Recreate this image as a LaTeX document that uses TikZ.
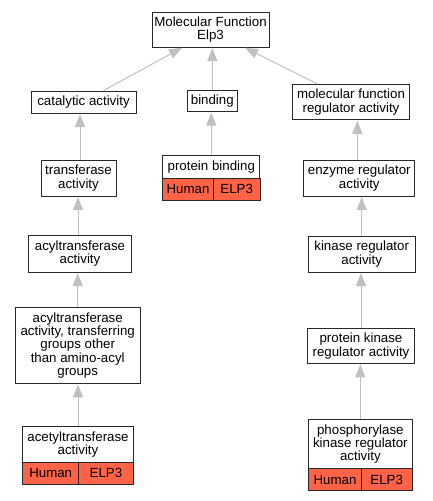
\documentclass[tikz,border=0pt]{standalone}
\usepackage{fontspec}
\setmainfont{Liberation Sans}
\usetikzlibrary{arrows.meta}
\definecolor{edgegray}{RGB}{192,192,192}
\definecolor{boxline}{RGB}{40,40,40}
\definecolor{hitred}{RGB}{255,99,71}
\begin{document}
\begin{tikzpicture}[x=1pt,y=-1pt,
  every node/.style={font=\fontsize{13.3}{13.3}\selectfont},
  box/.style={draw=boxline, line width=1pt, fill=white, rectangle, inner sep=0pt, align=center},
  cell/.style={box, fill=hitred},
  edge/.style={draw=edgegray, line width=1pt, -{Triangle[length=13pt,width=10pt]}, shorten >=0.6pt}
]
\useasboundingbox (0,0) rectangle (432,501);
% nodes
\node[box, minimum width=117pt, minimum height=35pt] (root) at (210.5,29.5) {Molecular Function\\Elp3};
\node[box, minimum width=105pt, minimum height=22pt] (cat) at (83.5,102) {catalytic activity};
\node[box, minimum width=50pt, minimum height=21pt] (bind) at (212.3,101) {binding};
\node[box, minimum width=116.6pt, minimum height=35.4pt] (mfra) at (351,102) {molecular function\\regulator activity};
\node[box, minimum width=75pt, minimum height=36pt] (tr) at (78.5,178) {transferase\\activity};
\node[box, minimum width=97.3pt, minimum height=23pt] (pb) at (211.3,166.8) {protein binding};
\node[cell, minimum width=50.6pt, minimum height=21.7pt] (pbH) at (188,189.2) {Human};
\node[cell, minimum width=46.7pt, minimum height=21.7pt] (pbE) at (236.65,189.2) {ELP3};
\node[box, minimum width=110.7pt, minimum height=36pt] (enz) at (359.3,178) {enzyme regulator\\activity};
\node[box, minimum width=102.7pt, minimum height=36.7pt] (acyl) at (80,253.7) {acyltransferase\\activity};
\node[box, minimum width=106.7pt, minimum height=36pt] (kin) at (361.7,254) {kinase regulator\\activity};
\node[box, minimum width=124.7pt, minimum height=76pt] (acyl2) at (77.7,345.3) {acyltransferase\\activity, transferring\\groups other\\than amino-acyl\\groups};
\node[box, minimum width=107.4pt, minimum height=34.6pt] (pk) at (361,346) {protein kinase\\regulator activity};
\node[box, minimum width=110.6pt, minimum height=36pt] (acet) at (78,444.7) {acetyltransferase\\activity};
\node[cell, minimum width=56pt, minimum height=21.3pt] (acetH) at (50.7,473.35) {Human};
\node[cell, minimum width=54.6pt, minimum height=21.3pt] (acetE) at (106,473.35) {ELP3};
\node[box, minimum width=103.3pt, minimum height=49.4pt] (phos) at (360.35,444) {phosphorylase\\kinase regulator\\activity};
\node[cell, minimum width=52.6pt, minimum height=22pt] (phosH) at (335,479.7) {Human};
\node[cell, minimum width=50.7pt, minimum height=22pt] (phosE) at (386.65,479.7) {ELP3};
% anchor points on root
\coordinate (rootL) at ([xshift=-28pt]root.south);
\coordinate (rootR) at ([xshift=34pt]root.south);
\coordinate (catT) at ([xshift=20pt]cat.north);
\coordinate (mfraT) at ([xshift=-34pt]mfra.north);
% edges
\draw[edge] (catT) -- (rootL);
\draw[edge] (bind.north) -- (bind.north |- root.south);
\draw[edge] (mfraT) -- (rootR);
\draw[edge] ([xshift=1.5pt]tr.north) -- ([xshift=1.5pt]tr.north |- cat.south);
\draw[edge] ([xshift=-2pt]acyl.north) -- ([xshift=-2pt]acyl.north |- tr.south);
\draw[edge] (acyl2.north) -- (acyl2.north |- acyl.south);
\draw[edge] (acet.north) -- (acet.north |- acyl2.south);
\draw[edge] (pb.north) -- (pb.north |- bind.south);
\draw[edge] ([xshift=-2pt]enz.north) -- ([xshift=-2pt]enz.north |- mfra.south);
\draw[edge] (kin.north) -- (kin.north |- enz.south);
\draw[edge] (pk.north) -- (pk.north |- kin.south);
\draw[edge] (phos.north) -- (phos.north |- pk.south);
\end{tikzpicture}
\end{document}
